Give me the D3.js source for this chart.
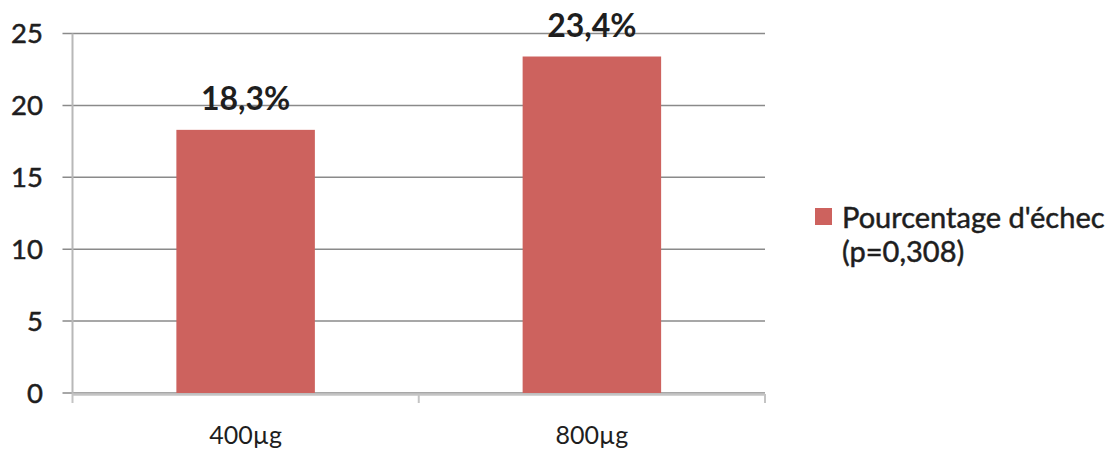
<!DOCTYPE html>
<html>
<head>
<meta charset="utf-8">
<script src="https://cdn.jsdelivr.net/npm/d3@7"></script>
<style>
  html, body { margin: 0; padding: 0; background: #fff; }
  svg { display: block; }
  text { font-family: Lato, "Open Sans", sans-serif; fill: #1e1e1e; }
  .heavy { stroke: #1e1e1e; stroke-width: 0.5px; }
</style>
</head>
<body>
<svg id="chart" width="1115" height="455"></svg>
<script>
// Dose groups and failure percentage
const categories = ["400µg", "800µg"];
const values = [18.3, 23.4];
const valueLabels = ["18,3%", "23,4%"];
const yTicks = [0, 5, 10, 15, 20, 25];
const legendLines = ["Pourcentage d'échec", "(p=0,308)"];

const svg = d3.select("#chart");
const plot = { left: 72.5, right: 765, top: 33.5, bottom: 393 };

const x = d3.scaleBand().domain(categories).range([plot.left, plot.right]).padding(0);
const y = d3.scaleLinear().domain([0, 25]).range([plot.bottom, plot.top]);
const barW = x.bandwidth() * 0.4;

// horizontal gridlines, with short ticks to the left of the axis
svg.append("g").selectAll("line").data(yTicks).join("line")
  .attr("x1", plot.left - 10).attr("x2", plot.right)
  .attr("y1", d => y(d)).attr("y2", d => y(d))
  .attr("stroke", "#8a8a8a").attr("stroke-width", 1.5);

// y tick labels
svg.append("g").selectAll("text").data(yTicks).join("text")
  .attr("class", "heavy")
  .attr("x", 43).attr("y", d => y(d))
  .attr("dy", "0.36em").attr("text-anchor", "end")
  .attr("font-size", 27.5).text(d => d);

// bars
svg.append("g").selectAll("rect").data(values).join("rect")
  .attr("x", (d, i) => x(categories[i]) + x.bandwidth() / 2 - barW / 2)
  .attr("width", barW)
  .attr("y", d => y(d))
  .attr("height", d => y(0) - y(d))
  .attr("fill", "#cd625e");

// value labels above bars
svg.append("g").selectAll("text").data(values).join("text")
  .attr("x", (d, i) => x(categories[i]) + x.bandwidth() / 2)
  .attr("y", d => y(d) - 20)
  .attr("text-anchor", "middle")
  .attr("font-size", 32).attr("font-weight", "bold")
  .text((d, i) => valueLabels[i]);

// axis lines
svg.append("line")
  .attr("x1", plot.left).attr("x2", plot.left).attr("y1", plot.top).attr("y2", plot.bottom + 1)
  .attr("stroke", "#b8b8b8").attr("stroke-width", 2);
svg.append("line")
  .attr("x1", plot.left).attr("x2", plot.right)
  .attr("y1", plot.bottom + 1.5).attr("y2", plot.bottom + 1.5)
  .attr("stroke", "#c4c4c4").attr("stroke-width", 2.5);

// x-axis category boundary ticks
const xTickPos = [plot.left, plot.left + x.step(), plot.right];
svg.append("g").selectAll("line").data(xTickPos).join("line")
  .attr("x1", d => d).attr("x2", d => d)
  .attr("y1", plot.bottom + 1).attr("y2", plot.bottom + 10)
  .attr("stroke", "#c4c4c4").attr("stroke-width", 2);

// category labels
svg.append("g").selectAll("text").data(categories).join("text")
  .attr("x", d => x(d) + x.bandwidth() / 2)
  .attr("y", 444)
  .attr("text-anchor", "middle")
  .attr("font-size", 25).text(d => d);

// legend
const lg = svg.append("g");
lg.append("rect").attr("x", 815).attr("y", 208).attr("width", 17).attr("height", 17)
  .attr("fill", "#cd625e");
lg.selectAll("text").data(legendLines).join("text")
  .attr("class", "heavy")
  .attr("x", 842).attr("y", (d, i) => 228 + i * 34)
  .attr("font-size", 29).text(d => d);
</script>
</body>
</html>
